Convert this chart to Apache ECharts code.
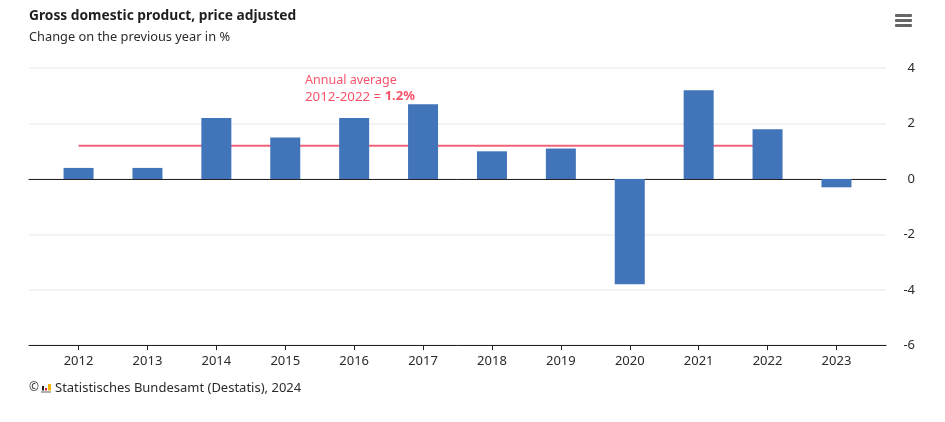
<!DOCTYPE html>
<html><head><meta charset="utf-8">
<style>html,body{margin:0;padding:0;background:#fff}#c{width:945px;height:422px}</style>
<script src="https://cdn.jsdelivr.net/npm/echarts@6/dist/echarts.min.js"></script>
</head><body><div id="c"></div>
<script>
const years = [2012,2013,2014,2015,2016,2017,2018,2019,2020,2021,2022,2023];
const gdpChange = [0.4,0.4,2.2,1.5,2.2,2.7,1.0,1.1,-3.8,3.2,1.8,-0.3];
const averageYears = [2012,2022];
const averageValue = 1.2;
const font = '"Noto Sans", sans-serif';
const ink = '#2b2b2b', red = '#f9536b';
const chart = echarts.init(document.getElementById('c'), null, {renderer:'canvas'});
const xBase = {type:'value', min:2011.2808, max:2023.7191, splitLine:{show:false}};
chart.setOption({
  animation:false,
  backgroundColor:'#fff',
  grid:{left:29, right:59, top:68.2, bottom:76.8, containLabel:false},
  xAxis:[
    Object.assign({}, xBase, {position:'bottom', axisLine:{onZero:false, lineStyle:{color:'#222',width:1}},
      axisTick:{show:true, length:5, lineStyle:{color:'#222'}, customValues:years},
      axisLabel:{fontFamily:font, fontSize:13, color:ink, margin:10, customValues:years, formatter:v=>String(v), hideOverlap:false}}),
    Object.assign({}, xBase, {position:'top', axisLine:{show:true,onZero:true, lineStyle:{color:'#222',width:1}},
      axisTick:{show:false}, axisLabel:{show:false}})
  ],
  yAxis:{type:'value', position:'right', min:-6, max:4, interval:2,
    axisLine:{show:false}, axisTick:{show:false},
    splitLine:{show:true, lineStyle:{color:'#f3f3f3', width:2}},
    axisLabel:{fontFamily:font, fontSize:13, color:ink, align:'right', margin:29}},
  series:[
    {type:'bar', xAxisIndex:0, barWidth:30, z:3, itemStyle:{color:'#4174b8'},
      data:years.map((y,i)=>[y,gdpChange[i]])},
    {type:'line', xAxisIndex:0, z:2, symbol:'none', lineStyle:{color:'#f2637a', width:2},
      data:averageYears.map(y=>[y,averageValue])}
  ],
  graphic:[
    {type:'text', left:29, top:9, style:{text:'Gross domestic product, price adjusted', fontFamily:font, fontSize:13.75, fontWeight:'bold', fill:'#1f1f1f'}},
    {type:'text', left:29, top:31, style:{text:'Change on the previous year in %', fontFamily:font, fontSize:12.8, fill:ink}},
    {type:'text', left:305, top:72, style:{
      text:'Annual average\n{a|2012-2022 = }{b|1.2%}', fontFamily:font, fontSize:12.5, lineHeight:16.5, fill:red,
      rich:{a:{fontFamily:font, fontSize:13.3, fill:red, lineHeight:16.5},
            b:{fontFamily:font, fontSize:13, fontWeight:'bold', fill:red, lineHeight:16.5}}}},
    {type:'text', left:29, top:382, style:{text:'©', fontFamily:font, fontSize:12, fill:ink}},
    {type:'rect', shape:{x:41,y:391,width:10,height:2}, style:{fill:'#b0b0b0'}},
    {type:'rect', shape:{x:42,y:386,width:2,height:4.5}, style:{fill:'#222'}},
    {type:'rect', shape:{x:45,y:388,width:2,height:2.5}, style:{fill:'#d0202e'}},
    {type:'rect', shape:{x:48,y:384,width:3,height:6.5}, style:{fill:'#f2b600'}},
    {type:'text', left:55, top:382, style:{text:'Statistisches Bundesamt (Destatis), 2024', fontFamily:font, fontSize:13, fill:ink}},
    {type:'rect', shape:{x:895,y:14,width:17,height:3,r:1}, style:{fill:'#666'}},
    {type:'rect', shape:{x:895,y:19,width:17,height:3,r:1}, style:{fill:'#666'}},
    {type:'rect', shape:{x:895,y:24,width:17,height:3,r:1}, style:{fill:'#666'}}
  ]
});
</script></body></html>
